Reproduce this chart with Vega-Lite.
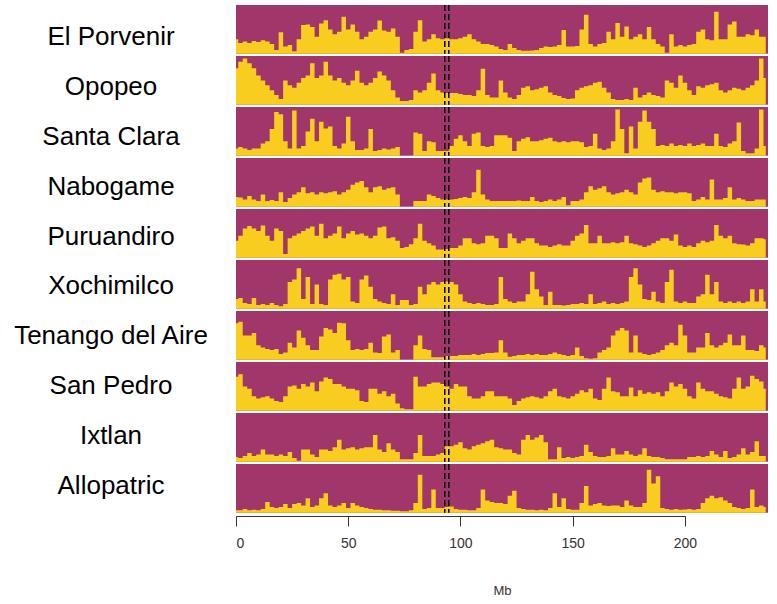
{
"$schema": "https://vega.github.io/schema/vega-lite/v6.json",
"background": "white",
"padding": {"left": 0, "top": 4, "right": 10, "bottom": 5},
"datasets": {
"pops": [
{"key":"a","name":"El Porvenir"},{"key":"b","name":"Opopeo"},{"key":"c","name":"Santa Clara"},{"key":"d","name":"Nabogame"},{"key":"e","name":"Puruandiro"},{"key":"f","name":"Xochimilco"},{"key":"g","name":"Tenango del Aire"},{"key":"h","name":"San Pedro"},{"key":"i","name":"Ixtlan"},{"key":"j","name":"Allopatric"}
],
"cov": [
{"mb":93.0,"cut":1},{"mb":94.8,"cut":1},
{"mb":0,"a":0.30,"b":0.75,"c":0.15,"d":0.2,"e":0.35,"f":0.2,"g":0.75,"h":0.7,"i":0.1,"j":0.05},
{"mb":2,"a":0.22,"b":0.88,"c":0.18,"d":0.19,"e":0.45,"f":0.22,"g":0.78,"h":0.75,"i":0.08,"j":0.05},
{"mb":4,"a":0.25,"b":0.95,"c":0.15,"d":0.15,"e":0.6,"f":0.12,"g":0.5,"h":0.5,"i":0.12,"j":0.08},
{"mb":6,"a":0.22,"b":0.85,"c":0.12,"d":0.22,"e":0.65,"f":0.1,"g":0.5,"h":0.45,"i":0.18,"j":0.05},
{"mb":8,"a":0.26,"b":0.75,"c":0.15,"d":0.15,"e":0.6,"f":0.22,"g":0.55,"h":0.3,"i":0.12,"j":0.06},
{"mb":10,"a":0.24,"b":0.6,"c":0.15,"d":0.12,"e":0.55,"f":0.08,"g":0.3,"h":0.25,"i":0.15,"j":0.05},
{"mb":12,"a":0.28,"b":0.5,"c":0.25,"d":0.25,"e":0.66,"f":0.1,"g":0.25,"h":0.28,"i":0.25,"j":0.08},
{"mb":14,"a":0.25,"b":0.4,"c":0.3,"d":0.12,"e":0.45,"f":0.08,"g":0.22,"h":0.3,"i":0.15,"j":0.22},
{"mb":16,"a":0.2,"b":0.3,"c":0.55,"d":0.14,"e":0.35,"f":0.12,"g":0.2,"h":0.25,"i":0.15,"j":0.12},
{"mb":18,"a":0.08,"b":0.2,"c":0.9,"d":0.12,"e":0.6,"f":0.08,"g":0.22,"h":0.2,"i":0.12,"j":0.1},
{"mb":20,"a":0.44,"b":0.12,"c":0.85,"d":0.3,"e":0.55,"f":0.05,"g":0.12,"h":0.18,"i":0.15,"j":0.12},
{"mb":22,"a":0.15,"b":0.5,"c":0.3,"d":0.1,"e":0.08,"f":0.1,"g":0.15,"h":0.3,"i":0.12,"j":0.18},
{"mb":24,"a":0.18,"b":0.4,"c":0.15,"d":0.18,"e":0.4,"f":0.55,"g":0.35,"h":0.5,"i":0.2,"j":0.1},
{"mb":26,"a":0.05,"b":0.35,"c":0.93,"d":0.25,"e":0.45,"f":0.6,"g":0.25,"h":0.52,"i":0.08,"j":0.18},
{"mb":28,"a":0.3,"b":0.45,"c":0.15,"d":0.3,"e":0.5,"f":0.83,"g":0.6,"h":0.45,"i":0.02,"j":0.2},
{"mb":30,"a":0.59,"b":0.55,"c":0.2,"d":0.4,"e":0.55,"f":0.2,"g":0.45,"h":0.55,"i":0.25,"j":0.15},
{"mb":32,"a":0.6,"b":0.6,"c":0.5,"d":0.28,"e":0.6,"f":0.65,"g":0.3,"h":0.5,"i":0.25,"j":0.3},
{"mb":34,"a":0.55,"b":0.85,"c":0.76,"d":0.3,"e":0.64,"f":0.1,"g":0.2,"h":0.58,"i":0.15,"j":0.12},
{"mb":36,"a":0.35,"b":0.55,"c":0.3,"d":0.25,"e":0.45,"f":0.5,"g":0.2,"h":0.4,"i":0.1,"j":0.15},
{"mb":38,"a":0.62,"b":0.6,"c":0.7,"d":0.3,"e":0.7,"f":0.1,"g":0.48,"h":0.6,"i":0.25,"j":0.3},
{"mb":40,"a":0.69,"b":0.88,"c":0.56,"d":0.28,"e":0.4,"f":0.08,"g":0.65,"h":0.68,"i":0.25,"j":0.4},
{"mb":42,"a":0.5,"b":0.6,"c":0.6,"d":0.3,"e":0.45,"f":0.6,"g":0.62,"h":0.65,"i":0.22,"j":0.15},
{"mb":44,"a":0.4,"b":0.5,"c":0.2,"d":0.32,"e":0.5,"f":0.7,"g":0.55,"h":0.55,"i":0.3,"j":0.12},
{"mb":46,"a":0.45,"b":0.55,"c":0.15,"d":0.25,"e":0.64,"f":0.72,"g":0.76,"h":0.55,"i":0.45,"j":0.15},
{"mb":48,"a":0.76,"b":0.45,"c":0.25,"d":0.3,"e":0.4,"f":0.6,"g":0.75,"h":0.5,"i":0.25,"j":0.2},
{"mb":50,"a":0.5,"b":0.4,"c":0.8,"d":0.35,"e":0.5,"f":0.65,"g":0.4,"h":0.45,"i":0.28,"j":0.1},
{"mb":52,"a":0.6,"b":0.5,"c":0.3,"d":0.45,"e":0.55,"f":0.15,"g":0.2,"h":0.45,"i":0.3,"j":0.2},
{"mb":54,"a":0.45,"b":0.7,"c":0.12,"d":0.5,"e":0.48,"f":0.12,"g":0.22,"h":0.42,"i":0.25,"j":0.15},
{"mb":56,"a":0.3,"b":0.45,"c":0.12,"d":0.53,"e":0.5,"f":0.6,"g":0.2,"h":0.2,"i":0.28,"j":0.12},
{"mb":58,"a":0.35,"b":0.4,"c":0.15,"d":0.4,"e":0.45,"f":0.68,"g":0.22,"h":0.18,"i":0.3,"j":0.1},
{"mb":60,"a":0.45,"b":0.45,"c":0.55,"d":0.3,"e":0.4,"f":0.45,"g":0.35,"h":0.45,"i":0.3,"j":0.08},
{"mb":62,"a":0.5,"b":0.55,"c":0.1,"d":0.4,"e":0.45,"f":0.2,"g":0.15,"h":0.45,"i":0.55,"j":0.06},
{"mb":64,"a":0.68,"b":0.68,"c":0.12,"d":0.42,"e":0.62,"f":0.15,"g":0.14,"h":0.35,"i":0.25,"j":0.06},
{"mb":66,"a":0.48,"b":0.6,"c":0.15,"d":0.35,"e":0.64,"f":0.12,"g":0.48,"h":0.4,"i":0.2,"j":0.05},
{"mb":68,"a":0.45,"b":0.5,"c":0.13,"d":0.38,"e":0.4,"f":0.1,"g":0.52,"h":0.3,"i":0.38,"j":0.05},
{"mb":70,"a":0.52,"b":0.3,"c":0.15,"d":0.4,"e":0.42,"f":0.3,"g":0.15,"h":0.35,"i":0.25,"j":0.04},
{"mb":72,"a":0.35,"b":0.15,"c":0.18,"d":0.25,"e":0.35,"f":0.08,"g":0.2,"h":0.15,"i":0.2,"j":0.04},
{"mb":74,"a":0.02,"b":0.08,"c":0,"d":0,"e":0.2,"f":0.18,"g":0,"h":0.05,"i":0.05,"j":0.03},
{"mb":76,"a":0.08,"b":0.08,"c":0,"d":0,"e":0.22,"f":0.18,"g":0,"h":0.03,"i":0.05,"j":0.03},
{"mb":78,"a":0.1,"b":0.1,"c":0,"d":0,"e":0.28,"f":0.08,"g":0,"h":0.03,"i":0.05,"j":0.05},
{"mb":80,"a":0.45,"b":0.3,"c":0.48,"d":0.12,"e":0.4,"f":0.1,"g":0.3,"h":0.7,"i":0.18,"j":0.2},
{"mb":82,"a":0.69,"b":0.25,"c":0.45,"d":0.12,"e":0.7,"f":0.45,"g":0.5,"h":0.5,"i":0.55,"j":0.78},
{"mb":84,"a":0.25,"b":0.3,"c":0.1,"d":0.12,"e":0.35,"f":0.3,"g":0.22,"h":0.5,"i":0.12,"j":0.08},
{"mb":86,"a":0.3,"b":0.45,"c":0.3,"d":0.25,"e":0.3,"f":0.5,"g":0.2,"h":0.55,"i":0.12,"j":0.1},
{"mb":88,"a":0.4,"b":0.64,"c":0.28,"d":0.22,"e":0.25,"f":0.55,"g":0.05,"h":0.58,"i":0.12,"j":0.48},
{"mb":90,"a":0.32,"b":0.3,"c":0.1,"d":0.18,"e":0.17,"f":0.5,"g":0.05,"h":0.58,"i":0.15,"j":0.1},
{"mb":92,"a":0.3,"b":0.25,"c":0.1,"d":0.15,"e":0.17,"f":0.55,"g":0.05,"h":0.55,"i":0.18,"j":0.1},
{"mb":94,"a":0.32,"b":0.24,"c":0.1,"d":0.15,"e":0.18,"f":0.56,"g":0.08,"h":0.5,"i":0.32,"j":0.12},
{"mb":96,"a":0.3,"b":0.24,"c":0.2,"d":0.15,"e":0.2,"f":0.55,"g":0.08,"h":0.45,"i":0.32,"j":0.13},
{"mb":98,"a":0.3,"b":0.24,"c":0.35,"d":0.16,"e":0.2,"f":0.5,"g":0.08,"h":0.55,"i":0.35,"j":0.08},
{"mb":100,"a":0.32,"b":0.22,"c":0.42,"d":0.18,"e":0.25,"f":0.3,"g":0.1,"h":0.5,"i":0.4,"j":0.06},
{"mb":102,"a":0.35,"b":0.2,"c":0.3,"d":0.2,"e":0.4,"f":0.15,"g":0.1,"h":0.5,"i":0.28,"j":0.06},
{"mb":104,"a":0.4,"b":0.2,"c":0.2,"d":0.18,"e":0.4,"f":0.12,"g":0.1,"h":0.3,"i":0.25,"j":0.05},
{"mb":106,"a":0.3,"b":0.18,"c":0.45,"d":0.3,"e":0.3,"f":0.1,"g":0.12,"h":0.25,"i":0.32,"j":0.05},
{"mb":108,"a":0.25,"b":0.3,"c":0.48,"d":0.76,"e":0.28,"f":0.12,"g":0.1,"h":0.25,"i":0.35,"j":0.1},
{"mb":110,"a":0.2,"b":0.74,"c":0.2,"d":0.25,"e":0.3,"f":0.1,"g":0.12,"h":0.3,"i":0.38,"j":0.48},
{"mb":112,"a":0.2,"b":0.2,"c":0.18,"d":0.15,"e":0.45,"f":0.08,"g":0.14,"h":0.4,"i":0.42,"j":0.25},
{"mb":114,"a":0.18,"b":0.15,"c":0.2,"d":0.12,"e":0.45,"f":0.08,"g":0.14,"h":0.4,"i":0.45,"j":0.22},
{"mb":116,"a":0.15,"b":0.15,"c":0.42,"d":0.12,"e":0.4,"f":0.1,"g":0.15,"h":0.3,"i":0.3,"j":0.2},
{"mb":118,"a":0.1,"b":0.5,"c":0.42,"d":0.12,"e":0.2,"f":0.65,"g":0.4,"h":0.3,"i":0.28,"j":0.2},
{"mb":120,"a":0.08,"b":0.25,"c":0.42,"d":0.12,"e":0.2,"f":0.2,"g":0.15,"h":0.3,"i":0.25,"j":0.18},
{"mb":122,"a":0.2,"b":0.15,"c":0.37,"d":0.12,"e":0.5,"f":0.15,"g":0.06,"h":0.25,"i":0.25,"j":0.35},
{"mb":124,"a":0.12,"b":0.12,"c":0.1,"d":0.12,"e":0.4,"f":0.12,"g":0.08,"h":0.12,"i":0.18,"j":0.45},
{"mb":126,"a":0.08,"b":0.2,"c":0.3,"d":0.13,"e":0.3,"f":0.15,"g":0.1,"h":0.2,"i":0.15,"j":0.1},
{"mb":128,"a":0.06,"b":0.35,"c":0.35,"d":0.12,"e":0.35,"f":0.15,"g":0.1,"h":0.25,"i":0.45,"j":0.08},
{"mb":130,"a":0.06,"b":0.38,"c":0.38,"d":0.12,"e":0.4,"f":0.3,"g":0.12,"h":0.28,"i":0.55,"j":0.06},
{"mb":132,"a":0.07,"b":0.3,"c":0.3,"d":0.2,"e":0.4,"f":0.76,"g":0.1,"h":0.3,"i":0.45,"j":0.06},
{"mb":134,"a":0.08,"b":0.32,"c":0.3,"d":0.12,"e":0.3,"f":0.4,"g":0.12,"h":0.28,"i":0.5,"j":0.05},
{"mb":136,"a":0.12,"b":0.35,"c":0.32,"d":0.1,"e":0.25,"f":0.25,"g":0.1,"h":0.25,"i":0.55,"j":0.06},
{"mb":138,"a":0.15,"b":0.38,"c":0.35,"d":0.12,"e":0.25,"f":0.08,"g":0.1,"h":0.3,"i":0.4,"j":0.05},
{"mb":140,"a":0.14,"b":0.25,"c":0.37,"d":0.15,"e":0.22,"f":0.35,"g":0.12,"h":0.4,"i":0.05,"j":0.1},
{"mb":142,"a":0.15,"b":0.2,"c":0.3,"d":0.12,"e":0.25,"f":0.08,"g":0.15,"h":0.45,"i":0.05,"j":0.4},
{"mb":144,"a":0.18,"b":0.18,"c":0.28,"d":0.15,"e":0.28,"f":0.08,"g":0.12,"h":0.3,"i":0.3,"j":0.12},
{"mb":146,"a":0.49,"b":0.14,"c":0.3,"d":0.2,"e":0.25,"f":0.07,"g":0.1,"h":0.28,"i":0.08,"j":0.3},
{"mb":148,"a":0.15,"b":0.12,"c":0.28,"d":0.03,"e":0.25,"f":0.08,"g":0.08,"h":0.25,"i":0.1,"j":0.08},
{"mb":150,"a":0.15,"b":0.13,"c":0.3,"d":0.12,"e":0.35,"f":0.1,"g":0.1,"h":0.3,"i":0.08,"j":0.06},
{"mb":152,"a":0.16,"b":0.3,"c":0.3,"d":0.12,"e":0.45,"f":0.1,"g":0.25,"h":0.35,"i":0.1,"j":0.06},
{"mb":154,"a":0.5,"b":0.35,"c":0.28,"d":0.15,"e":0.5,"f":0.12,"g":0.08,"h":0.42,"i":0.12,"j":0.2},
{"mb":156,"a":0.8,"b":0.38,"c":0.18,"d":0.3,"e":0.67,"f":0.1,"g":0.03,"h":0.38,"i":0.35,"j":0.55},
{"mb":158,"a":0.2,"b":0.4,"c":0.2,"d":0.42,"e":0.3,"f":0.3,"g":0.02,"h":0.45,"i":0.2,"j":0.15},
{"mb":160,"a":0.15,"b":0.45,"c":0.45,"d":0.35,"e":0.3,"f":0.1,"g":0.03,"h":0.25,"i":0.12,"j":0.18},
{"mb":162,"a":0.2,"b":0.47,"c":0.15,"d":0.38,"e":0.45,"f":0.12,"g":0.15,"h":0.22,"i":0.1,"j":0.2},
{"mb":164,"a":0.22,"b":0.35,"c":0.12,"d":0.42,"e":0.3,"f":0.15,"g":0.2,"h":0.45,"i":0.1,"j":0.15},
{"mb":166,"a":0.45,"b":0.25,"c":0.15,"d":0.3,"e":0.3,"f":0.1,"g":0.25,"h":0.68,"i":0.12,"j":0.14},
{"mb":168,"a":0.3,"b":0.12,"c":0.3,"d":0.25,"e":0.32,"f":0.12,"g":0.5,"h":0.4,"i":0.28,"j":0.15},
{"mb":170,"a":0.63,"b":0.1,"c":0.95,"d":0.28,"e":0.3,"f":0.1,"g":0.6,"h":0.38,"i":0.15,"j":0.15},
{"mb":172,"a":0.35,"b":0.1,"c":0.55,"d":0.3,"e":0.32,"f":0.12,"g":0.65,"h":0.3,"i":0.15,"j":0.12},
{"mb":174,"a":0.56,"b":0.12,"c":0.05,"d":0.35,"e":0.45,"f":0.15,"g":0.6,"h":0.3,"i":0.22,"j":0.25},
{"mb":176,"a":0.3,"b":0.1,"c":0.6,"d":0.3,"e":0.3,"f":0.65,"g":0.15,"h":0.48,"i":0.15,"j":0.15},
{"mb":178,"a":0.35,"b":0.35,"c":0.15,"d":0.25,"e":0.28,"f":0.83,"g":0.5,"h":0.3,"i":0.12,"j":0.12},
{"mb":180,"a":0.4,"b":0.15,"c":0.7,"d":0.5,"e":0.25,"f":0.5,"g":0.15,"h":0.42,"i":0.15,"j":0.12},
{"mb":182,"a":0.3,"b":0.2,"c":0.93,"d":0.58,"e":0.22,"f":0.2,"g":0.12,"h":0.35,"i":0.28,"j":0.2},
{"mb":184,"a":0.55,"b":0.25,"c":0.7,"d":0.6,"e":0.25,"f":0.18,"g":0.1,"h":0.38,"i":0.12,"j":0.88},
{"mb":186,"a":0.3,"b":0.2,"c":0.55,"d":0.35,"e":0.3,"f":0.35,"g":0.12,"h":0.35,"i":0.1,"j":0.6},
{"mb":188,"a":0.2,"b":0.18,"c":0.2,"d":0.3,"e":0.35,"f":0.15,"g":0.15,"h":0.38,"i":0.1,"j":0.75},
{"mb":190,"a":0.15,"b":0.15,"c":0.22,"d":0.32,"e":0.4,"f":0.12,"g":0.2,"h":0.3,"i":0.08,"j":0.1},
{"mb":192,"a":0.02,"b":0.5,"c":0.2,"d":0.3,"e":0.4,"f":0.55,"g":0.3,"h":0.4,"i":0.05,"j":0.08},
{"mb":194,"a":0.4,"b":0.45,"c":0.25,"d":0.3,"e":0.35,"f":0.8,"g":0.35,"h":0.58,"i":0.05,"j":0.06},
{"mb":196,"a":0.15,"b":0.35,"c":0.2,"d":0.28,"e":0.48,"f":0.15,"g":0.3,"h":0.5,"i":0.05,"j":0.08},
{"mb":198,"a":0.18,"b":0.6,"c":0.22,"d":0.3,"e":0.25,"f":0.12,"g":0.72,"h":0.55,"i":0.05,"j":0.06},
{"mb":200,"a":0.15,"b":0.45,"c":0.2,"d":0.3,"e":0.22,"f":0.15,"g":0.5,"h":0.45,"i":0.05,"j":0.07},
{"mb":202,"a":0.18,"b":0.3,"c":0.25,"d":0.28,"e":0.25,"f":0.12,"g":0.15,"h":0.3,"i":0.1,"j":0.08},
{"mb":204,"a":0.2,"b":0.2,"c":0.2,"d":0.12,"e":0.22,"f":0.12,"g":0.15,"h":0.25,"i":0.1,"j":0.06},
{"mb":206,"a":0.45,"b":0.38,"c":0.22,"d":0.15,"e":0.3,"f":0.25,"g":0.25,"h":0.58,"i":0.12,"j":0.08},
{"mb":208,"a":0.5,"b":0.35,"c":0.25,"d":0.2,"e":0.35,"f":0.3,"g":0.25,"h":0.45,"i":0.1,"j":0.2},
{"mb":210,"a":0.3,"b":0.4,"c":0.2,"d":0.15,"e":0.32,"f":0.7,"g":0.55,"h":0.4,"i":0.12,"j":0.3},
{"mb":212,"a":0.28,"b":0.42,"c":0.2,"d":0.56,"e":0.35,"f":0.3,"g":0.3,"h":0.4,"i":0.22,"j":0.35},
{"mb":214,"a":0.86,"b":0.45,"c":0.45,"d":0.15,"e":0.67,"f":0.55,"g":0.25,"h":0.35,"i":0.15,"j":0.3},
{"mb":216,"a":0.3,"b":0.3,"c":0.2,"d":0.15,"e":0.45,"f":0.15,"g":0.3,"h":0.3,"i":0.1,"j":0.32},
{"mb":218,"a":0.3,"b":0.25,"c":0.18,"d":0.18,"e":0.4,"f":0.12,"g":0.35,"h":0.28,"i":0.22,"j":0.25},
{"mb":220,"a":0.6,"b":0.3,"c":0.25,"d":0.4,"e":0.45,"f":0.15,"g":0.52,"h":0.25,"i":0.08,"j":0.2},
{"mb":222,"a":0.66,"b":0.35,"c":0.3,"d":0.15,"e":0.3,"f":0.12,"g":0.3,"h":0.45,"i":0.1,"j":0.12},
{"mb":224,"a":0.35,"b":0.33,"c":0.68,"d":0.18,"e":0.28,"f":0.15,"g":0.3,"h":0.68,"i":0.15,"j":0.1},
{"mb":226,"a":0.35,"b":0.3,"c":0.1,"d":0.15,"e":0.27,"f":0.12,"g":0.5,"h":0.45,"i":0.28,"j":0.08},
{"mb":228,"a":0.4,"b":0.35,"c":0.05,"d":0.12,"e":0.25,"f":0.15,"g":0.2,"h":0.5,"i":0.15,"j":0.1},
{"mb":230,"a":0.38,"b":0.4,"c":0.05,"d":0.12,"e":0.3,"f":0.4,"g":0.2,"h":0.72,"i":0.2,"j":0.48},
{"mb":232,"a":0.5,"b":0.5,"c":0.15,"d":0.15,"e":0.4,"f":0.15,"g":0.18,"h":0.65,"i":0.42,"j":0.12},
{"mb":234,"a":0.35,"b":0.95,"c":0.95,"d":0.15,"e":0.4,"f":0.4,"g":0.3,"h":0.6,"i":0.12,"j":0.15},
{"mb":236,"a":0.35,"b":0.55,"c":0.2,"d":0.15,"e":0.38,"f":0.15,"g":0.25,"h":0.45,"i":0.12,"j":0.12}
]
},
"hconcat": [
{
"data": {"name": "pops"},
"width": 222,
"height": 499,
"view": {"stroke": null, "fill": null},
"mark": {"type": "text", "font": "Liberation Sans", "fontSize": 26, "color": "black", "baseline": "middle", "align": "center", "dy": 7},
"encoding": {
"y": {"field": "name", "type": "nominal", "sort": ["El Porvenir","Opopeo","Santa Clara","Nabogame","Puruandiro","Xochimilco","Tenango del Aire","San Pedro","Ixtlan","Allopatric"], "axis": null, "scale": {"paddingInner": 0, "paddingOuter": 0}},
"text": {"field": "name", "type": "nominal"}
}
},
{
"data": {"name": "cov"},
"transform": [
{"fold": ["a","b","c","d","e","f","g","h","i","j"], "as": ["key","v"]},
{"lookup": "key", "from": {"data": {"name": "pops"}, "key": "key", "fields": ["name"]}}
],
"facet": {
"row": {
"field": "name", "type": "nominal",
"sort": ["El Porvenir","Opopeo","Santa Clara","Nabogame","Puruandiro","Xochimilco","Tenango del Aire","San Pedro","Ixtlan","Allopatric"],
"title": null,
"header": {"labels": false}
}
},
"spacing": 0,
"spec": {
"width": 532,
"height": 48.8,
"view": {"fill": "#A0366A", "stroke": null},
"layer": [
{
"transform": [{"filter": "datum.cut != 1"}],
"mark": {"type": "area", "interpolate": "step", "color": "#F8CD20"},
"encoding": {
"x": {"field": "mb", "type": "quantitative", "scale": {"domain": [0, 237], "nice": false, "zero": false},
"axis": {"values": [0,50,100,150,200], "title": "Mb", "grid": false, "tickSize": 10, "labelPadding": 10, "titlePadding": 34, "offset": 2,
"domainDash": [449, 300],
"labelFontSize": 14, "titleFontSize": 13, "labelFont": "Liberation Sans", "titleFont": "Liberation Sans", "titleFontWeight": "normal",
"domainColor": "#333333", "tickColor": "#333333", "labelColor": "#333333", "titleColor": "#333333"}},
"y": {"field": "v", "type": "quantitative", "scale": {"domain": [0, 1]}, "axis": null}
}
},
{
"transform": [{"filter": "datum.cut == 1"}],
"mark": {"type": "rule", "color": "black", "strokeWidth": 1.5, "strokeDash": [6, 3]},
"encoding": {
"x": {"field": "mb", "type": "quantitative"}
}
}
]
}
}
],
"spacing": 13,
"config": {
"view": {"stroke": null}
}
}
